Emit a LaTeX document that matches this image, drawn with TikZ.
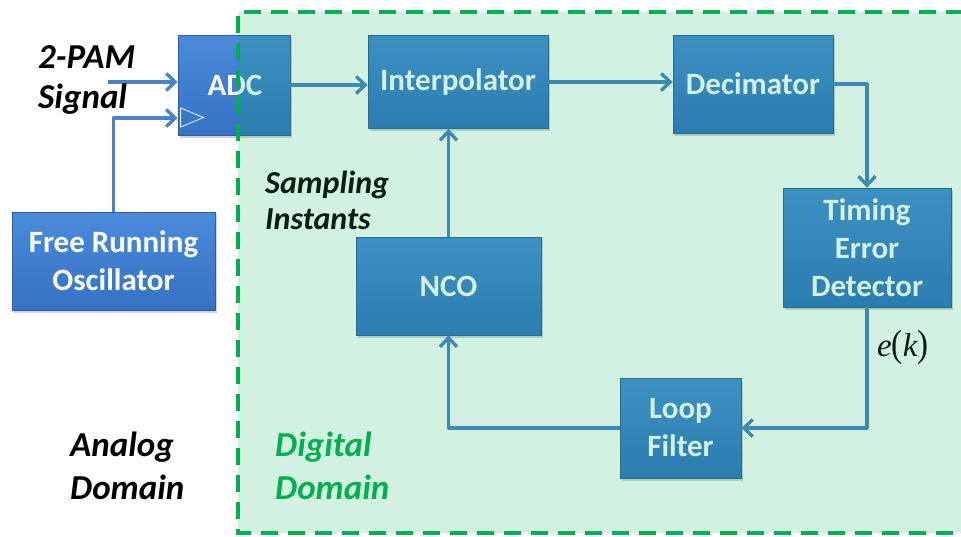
\documentclass[tikz,border=0pt]{standalone}
\usepackage{fontspec}
\setmainfont{Carlito}
\newfontfamily\ekserif{Liberation Serif}
\usetikzlibrary{arrows.meta,shadows,calc}
\definecolor{boxtop}{HTML}{4A8BDA}
\definecolor{boxbot}{HTML}{3572C4}
\definecolor{boxedge}{HTML}{2C5E9E}
\definecolor{wirecol}{HTML}{4A82C8}
\definecolor{dgreen}{HTML}{00B050}
\begin{document}
\begin{tikzpicture}[x=1pt,y=-1pt,
  blk/.style={draw=boxedge, line width=0.8pt, top color=boxtop, bottom color=boxbot,
    text=white, font=\bfseries\fontsize{31}{38}\selectfont, align=center, inner sep=0pt,
    drop shadow={shadow xshift=2pt,shadow yshift=-2.5pt,opacity=0.35}},
  wire/.style={draw=wirecol, line width=3.3pt, line join=round,
    -{Straight Barb[length=9pt,width=17pt,line width=3.3pt]}},
  lbl/.style={font=\bfseries\itshape\fontsize{35}{40}\selectfont, align=left, inner sep=0pt},
]
\path[use as bounding box] (0,0) rectangle (961,536);
\clip (0,0) rectangle (961,536);

% blocks
\node[blk, minimum width=112pt, minimum height=100pt] (ADC) at (234,85) {\hspace*{2pt}ADC};
\node[blk, minimum width=203pt, minimum height=98pt] (FRO) at (113.5,261) {Free Running\\Oscillator};
\node[blk, minimum width=180pt, minimum height=93pt] (INT) at (458,82) {Interpolator};
\node[blk, minimum width=160pt, minimum height=98pt] (DEC) at (753,84) {Decimator};
\node[blk, minimum width=168pt, minimum height=119pt] (TED) at (867,247.5) {Timing\\Error\\Detector};
\node[blk, minimum width=185pt, minimum height=98pt] (NCO) at (448.5,286) {NCO};
\node[blk, minimum width=121pt, minimum height=100pt] (LF) at (680.5,428) {Loop\\Filter};

% clock triangle in ADC
\draw[white, opacity=0.85, line width=0.9pt] ($(ADC.west)+(3,23)$) -- ++(23,9.5) -- ++(-23,9.5) -- cycle;

% connectors
\coordinate (pam) at (108,82);
\coordinate (clk) at ($(ADC.west)+(0,33)$);
\draw[wire] (pam) -- (pam -| ADC.west);
\draw[wire] (FRO.north) |- (clk);
\draw[wire] (ADC.east) -- (ADC.east -| INT.west);
\draw[wire] (INT.east) -- (INT.east -| DEC.west);
\draw[wire] (DEC.east) -| (TED.north);
\draw[wire] (TED.south) |- (LF.east);
\draw[wire] (LF.west) -| (NCO.south);
\draw[wire] (NCO.north) -- (NCO.north |- INT.south);

% labels
\node[lbl, anchor=west] (pamlbl) at (38,80) {2-PAM\\Signal};
\node[lbl, anchor=west, font=\bfseries\itshape\fontsize{32}{36}\selectfont] (samp) at (265,200) {Sampling\\Instants};
\node[lbl, anchor=west, font=\bfseries\itshape\fontsize{35}{43}\selectfont] (ana) at (70,466) {Analog\\Domain};
\node[inner sep=0pt] (ek) at (903,347) {\ekserif\fontsize{33}{40}\selectfont\textit{e}\scalebox{1}[1.15]{(}\textit{k}\scalebox{1}[1.15]{)}};

% digital domain overlay
\fill[dgreen, fill opacity=0.175] (238,12) rectangle (990,533);
\draw[dgreen, line width=3.5pt, dash pattern=on 17pt off 10pt] (990,12) -- (238,12) -- (238,533) -- (990,533);
\node[lbl, anchor=west, text=dgreen, font=\bfseries\itshape\fontsize{35}{43}\selectfont] (dig) at (275,466) {Digital\\Domain};
\end{tikzpicture}
\end{document}
